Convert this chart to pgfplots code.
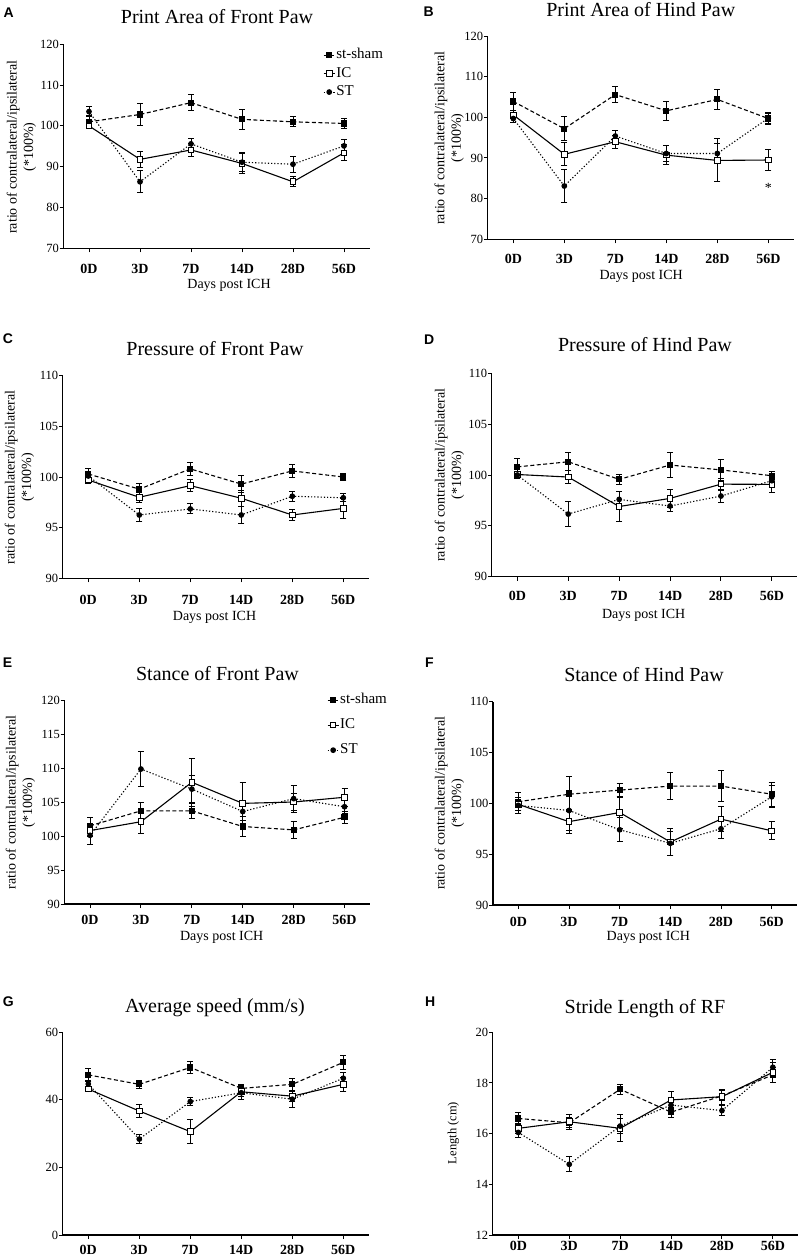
\documentclass[border=0pt]{standalone}
\usepackage{fontspec}
\setmainfont{Liberation Serif}
\newfontfamily\panelfont{Liberation Sans}
\usepackage{pgfplots}
\pgfplotsset{compat=1.18}
\pgfplotsset{
  panel/.style={
    scale only axis,
    anchor=south west,
    axis x line*=bottom,
    axis y line*=left,
    xmin=-0.5, xmax=5.5,
    xtick={0,1,2,3,4,5},
    xticklabels={0D,3D,7D,14D,28D,56D},
    tick align=outside,
    major tick length=4pt,
    tick style={black, line width=1pt},
    axis line style={black, line width=1.1pt},
    xticklabel style={font=\fontsize{14}{16}\selectfont\bfseries, yshift=#1},
    yticklabel style={font=\fontsize{12.5}{14}\selectfont, inner sep=0.5pt},
    /pgf/number format/assume math mode=true,
    clip=false,
    legend cell align=left,
    legend image code/.code={\draw[mark repeat=2,mark phase=2,##1] plot coordinates {(0pt,0pt) (5.5pt,0pt) (11pt,0pt)};},
  },
  ebars/.style={error bars/.cd, y dir=both, y explicit, error bar style={solid, line width=1pt, black},
    error mark options={rotate=90, mark size=3pt, line width=1pt, solid, black}},
  sham/.style={black, line width=1.1pt, dash pattern=on 4pt off 2.5pt, mark=square*, mark size=2.5pt, mark options={solid, fill=black}, ebars},
  ic/.style={black, line width=1.1pt, solid, mark=square*, mark size=2.8pt, mark options={solid, fill=white, line width=1pt}, ebars},
  st/.style={black, line width=1.1pt, dash pattern=on 1.2pt off 2pt, mark=*, mark size=2.3pt, mark options={solid, fill=black}, ebars},
}
\newcommand{\ttl}{\fontsize{20}{24}\selectfont}
\newcommand{\lbl}{\fontsize{14}{16}\selectfont}
\newcommand{\plet}{\panelfont\bfseries\fontsize{14}{16}\selectfont}
\begin{document}
\begin{tikzpicture}
\path[use as bounding box] (0pt,0pt) rectangle (800pt,-1257pt);

% ---------------- A
\begin{axis}[panel=-8pt, at={(63.5pt,-248.3pt)}, width=306pt, height=204pt,
  ymin=70, ymax=120, ytick={70,80,...,120},
  legend style={at={(0.848,0.985)}, anchor=north west, draw=none, fill=none, inner sep=0pt, row sep=3.5pt,
    font=\fontsize{15}{17}\selectfont, nodes={inner sep=1pt, text height=10pt, text depth=3pt}}]
\addplot[sham] coordinates {(0,101.0) +- (0,1.5) (1,102.8) +- (0,2.7) (2,105.7) +- (0,1.9) (3,101.6) +- (0,2.4) (4,101.0) +- (0,1.2) (5,100.6) +- (0,1.2)};
\addlegendentry{st-sham}
\addplot[ic] coordinates {(0,100.0) +- (0,0.6) (1,91.8) +- (0,1.9) (2,94.1) +- (0,1.7) (3,90.8) +- (0,2.5) (4,86.3) +- (0,1.2) (5,93.4) +- (0,2.0)};
\addlegendentry{IC}
\addplot[st] coordinates {(0,103.5) +- (0,1.3) (1,86.3) +- (0,2.7) (2,95.6) +- (0,1.4) (3,91.1) +- (0,2.3) (4,90.6) +- (0,1.9) (5,95.1) +- (0,1.6)};
\addlegendentry{ST}
\end{axis}

% ---------------- B
\begin{axis}[panel=-7pt, at={(487.8pt,-239.3pt)}, width=306pt, height=203.3pt,
  ymin=70, ymax=120, ytick={70,80,...,120}]
\addplot[sham] coordinates {(0,103.9) +- (0,2.3) (1,97.2) +- (0,2.9) (2,105.6) +- (0,1.9) (3,101.6) +- (0,2.3) (4,104.4) +- (0,2.5) (5,99.7) +- (0,1.5)};
\addplot[ic] coordinates {(0,100.6) +- (0,1.0) (1,90.9) +- (0,2.8) (2,94.0) +- (0,1.6) (3,90.7) +- (0,2.3) (4,89.4) +- (0,5.3) (5,89.5) +- (0,2.6)};
\addplot[st] coordinates {(0,99.7) +- (0,1.0) (1,83.1) +- (0,4.0) (2,95.4) +- (0,1.3) (3,91.1) +- (0,2.0) (4,91.1) +- (0,2.4) (5,99.8) +- (0,1.2)};
\node[anchor=base, font=\lbl] at (axis cs:5,81.6) {*};
\end{axis}

% ---------------- C
\begin{axis}[panel=-9pt, at={(62.8pt,-578.3pt)}, width=306pt, height=202.6pt,
  ymin=90, ymax=110, ytick={90,95,...,110}]
\addplot[sham] coordinates {(0,100.3) +- (0,0.5) (1,98.8) +- (0,0.6) (2,100.8) +- (0,0.65) (3,99.3) +- (0,0.8) (4,100.6) +- (0,0.65) (5,100.0) +- (0,0.3)};
\addplot[ic] coordinates {(0,99.7) +- (0,0.3) (1,98.0) +- (0,0.5) (2,99.15) +- (0,0.6) (3,97.9) +- (0,0.8) (4,96.25) +- (0,0.5) (5,96.9) +- (0,1.0)};
\addplot[st] coordinates {(0,100.1) +- (0,0.3) (1,96.25) +- (0,0.6) (2,96.85) +- (0,0.5) (3,96.25) +- (0,0.8) (4,98.1) +- (0,0.5) (5,97.95) +- (0,0.4)};
\end{axis}

% ---------------- D
\begin{axis}[panel=-7pt, at={(491.9pt,-576.7pt)}, width=305.4pt, height=203.4pt,
  ymin=90, ymax=110, ytick={90,95,...,110}]
\addplot[sham] coordinates {(0,100.8) +- (0,0.8) (1,101.3) +- (0,0.9) (2,99.57) +- (0,0.5) (3,100.98) +- (0,1.2) (4,100.5) +- (0,1.0) (5,99.93) +- (0,0.4)};
\addplot[ic] coordinates {(0,100.05) +- (0,0.2) (1,99.8) +- (0,0.6) (2,96.9) +- (0,1.5) (3,97.7) +- (0,0.9) (4,99.1) +- (0,0.6) (5,99.08) +- (0,0.8)};
\addplot[st] coordinates {(0,100.0) +- (0,0.3) (1,96.16) +- (0,1.2) (2,97.6) +- (0,0.8) (3,96.95) +- (0,0.5) (4,97.93) +- (0,0.6) (5,99.44) +- (0,0.5)};
\end{axis}

% ---------------- E
\begin{axis}[panel=-4pt, at={(64.6pt,-904pt)}, width=305.4pt, height=204pt,
  ymin=90, ymax=120, ytick={90,95,...,120},
  legend style={at={(0.859,1.037)}, anchor=north west, draw=none, fill=none, inner sep=0pt, row sep=10pt,
    font=\fontsize{15}{17}\selectfont, nodes={inner sep=1pt, text height=10pt, text depth=3pt}}]
\addplot[sham] coordinates {(0,101.5) +- (0,1.2) (1,103.7) +- (0,1.2) (2,103.7) +- (0,1.1) (3,101.4) +- (0,1.4) (4,100.9) +- (0,1.3) (5,102.75) +- (0,0.9)};
\addlegendentry{st-sham}
\addplot[ic] coordinates {(0,100.8) +- (0,0.8) (1,102.1) +- (0,1.8) (2,107.9) +- (0,3.5) (3,104.8) +- (0,3.0) (4,105.0) +- (0,1.2) (5,105.7) +- (0,1.3)};
\addlegendentry{IC}
\addplot[st] coordinates {(0,100.1) +- (0,1.3) (1,109.85) +- (0,2.55) (2,106.9) +- (0,2.0) (3,103.6) +- (0,1.3) (4,105.5) +- (0,2.0) (5,104.3) +- (0,1.0)};
\addlegendentry{ST}
\end{axis}

% ---------------- F
\begin{axis}[panel=-5pt, at={(493pt,-905pt)}, width=304pt, height=203.3pt,
  ymin=90, ymax=110, ytick={90,95,...,110}]
\addplot[sham] coordinates {(0,100.16) +- (0,0.9) (1,100.9) +- (0,1.7) (2,101.3) +- (0,0.7) (3,101.7) +- (0,1.3) (4,101.7) +- (0,1.5) (5,100.9) +- (0,1.2)};
\addplot[ic] coordinates {(0,99.9) +- (0,0.3) (1,98.2) +- (0,1.2) (2,99.1) +- (0,1.6) (3,96.2) +- (0,1.3) (4,98.45) +- (0,1.2) (5,97.3) +- (0,0.9)};
\addplot[st] coordinates {(0,99.8) +- (0,0.8) (1,99.3) +- (0,2.0) (2,97.4) +- (0,1.2) (3,96.07) +- (0,1.2) (4,97.5) +- (0,1.0) (5,100.65) +- (0,1.1)};
\end{axis}

% ---------------- G
\begin{axis}[panel=-3pt, at={(62.8pt,-1235pt)}, width=306pt, height=202.7pt,
  ymin=0, ymax=60, ytick={0,20,40,60}]
\addplot[sham] coordinates {(0,47.4) +- (0,2.0) (1,44.6) +- (0,1.2) (2,49.6) +- (0,1.7) (3,43.4) +- (0,1.2) (4,44.6) +- (0,1.8) (5,51.1) +- (0,2.0)};
\addplot[ic] coordinates {(0,43.2) +- (0,0.8) (1,36.7) +- (0,2.0) (2,30.6) +- (0,3.5) (3,42.4) +- (0,1.5) (4,41.1) +- (0,1.5) (5,44.6) +- (0,2.0)};
\addplot[st] coordinates {(0,44.7) +- (0,1.0) (1,28.4) +- (0,1.3) (2,39.5) +- (0,1.1) (3,42.1) +- (0,2.0) (4,40.2) +- (0,2.5) (5,46.4) +- (0,1.8)};
\end{axis}

% ---------------- H
\begin{axis}[panel=1pt, at={(492.9pt,-1235pt)}, width=305.4pt, height=202.7pt,
  ymin=12, ymax=20, ytick={12,14,...,20}]
\addplot[sham] coordinates {(0,16.6) +- (0,0.23) (1,16.43) +- (0,0.2) (2,17.75) +- (0,0.2) (3,16.85) +- (0,0.2) (4,17.49) +- (0,0.2) (5,18.32) +- (0,0.3)};
\addplot[ic] coordinates {(0,16.21) +- (0,0.2) (1,16.47) +- (0,0.3) (2,16.21) +- (0,0.53) (3,17.33) +- (0,0.33) (4,17.46) +- (0,0.3) (5,18.42) +- (0,0.4)};
\addplot[st] coordinates {(0,16.05) +- (0,0.2) (1,14.79) +- (0,0.3) (2,16.3) +- (0,0.3) (3,17.13) +- (0,0.3) (4,16.91) +- (0,0.2) (5,18.62) +- (0,0.3)};
\end{axis}

% ---------------- titles
\node[anchor=base, font=\ttl] at (217pt,-23.3pt) {Print Area of Front Paw};
\node[anchor=base, font=\ttl] at (640.8pt,-16.7pt) {Print Area of Hind Paw};
\node[anchor=base, font=\ttl] at (215pt,-355pt) {Pressure of Front Paw};
\node[anchor=base, font=\ttl] at (645pt,-351.7pt) {Pressure of Hind Paw};
\node[anchor=base, font=\ttl] at (217.5pt,-680pt) {Stance of Front Paw};
\node[anchor=base, font=\ttl] at (644pt,-681.7pt) {Stance of Hind Paw};
\node[anchor=base, font=\ttl] at (215pt,-1012.7pt) {Average speed (mm/s)};
\node[anchor=base, font=\ttl] at (645pt,-1013.3pt) {Stride Length of RF};

% ---------------- panel letters
\node[anchor=base west, inner sep=0pt, font=\plet] at (3.3pt,-17.3pt) {A};
\node[anchor=base west, inner sep=0pt, font=\plet] at (423.3pt,-16.7pt) {B};
\node[anchor=base west, inner sep=0pt, font=\plet] at (2.7pt,-343.3pt) {C};
\node[anchor=base west, inner sep=0pt, font=\plet] at (424pt,-344pt) {D};
\node[anchor=base west, inner sep=0pt, font=\plet] at (2.7pt,-667.3pt) {E};
\node[anchor=base west, inner sep=0pt, font=\plet] at (425pt,-667.3pt) {F};
\node[anchor=base west, inner sep=0pt, font=\plet] at (2.7pt,-1006pt) {G};
\node[anchor=base west, inner sep=0pt, font=\plet] at (425pt,-1006pt) {H};

% ---------------- x labels
\node[font=\lbl] at (229pt,-285pt) {Days post ICH};
\node[font=\lbl] at (641.2pt,-276pt) {Days post ICH};
\node[font=\lbl] at (214.5pt,-617pt) {Days post ICH};
\node[font=\lbl] at (643.7pt,-615pt) {Days post ICH};
\node[font=\lbl, inner sep=0pt] at (221.7pt,-937pt) {Days post ICH};
\node[font=\lbl, inner sep=0pt] at (648.3pt,-937pt) {Days post ICH};

% ---------------- y labels
\node[rotate=90, align=center, font=\fontsize{14}{16.5}\selectfont] at (21.5pt,-147pt) {ratio of contralateral/ipsilateral\\(*100\%)};
\node[rotate=90, align=center, font=\fontsize{14}{16.5}\selectfont] at (449.3pt,-138pt) {ratio of contralateral/ipsilateral\\(*100\%)};
\node[rotate=90, align=center, font=\fontsize{14}{16.5}\selectfont] at (19.5pt,-477.5pt) {ratio of contralateral/ipsilateral\\(*100\%)};
\node[rotate=90, align=center, font=\fontsize{14}{16.5}\selectfont] at (449.5pt,-475pt) {ratio of contralateral/ipsilateral\\(*100\%)};
\node[rotate=90, align=center, font=\fontsize{14}{16.5}\selectfont] at (20.5pt,-802.5pt) {ratio of contralateral/ipsilateral\\(*100\%)};
\node[rotate=90, align=center, font=\fontsize{14}{16.5}\selectfont] at (449.5pt,-803.3pt) {ratio of contralateral/ipsilateral\\(*100\%)};
\node[rotate=90, font=\fontsize{12.5}{14}\selectfont] at (453.3pt,-1133pt) {Length (cm)};
\end{tikzpicture}
\end{document}
